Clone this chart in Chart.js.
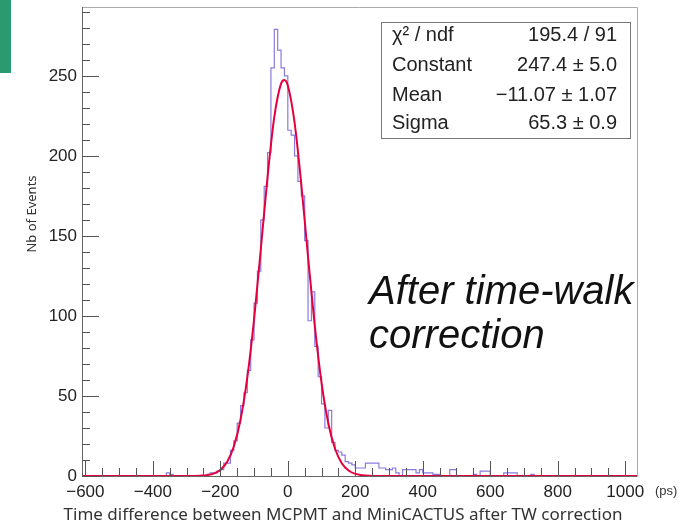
<!DOCTYPE html>
<html>
<head>
<meta charset="utf-8">
<script src="https://cdn.jsdelivr.net/npm/chart.js@4"></script>
<style>
  body { margin: 0; background: #fff; }
  #wrap { position: relative; width: 686px; height: 528px; }
  #tab { position: absolute; left: 0; top: 0; width: 11px; height: 73px; background: #2a9a70; }
</style>
</head>
<body>
<div id="wrap">
  <canvas id="canvas" width="686" height="528"></canvas>
  <div id="tab"></div>
</div>
<script>
// histogram, 10 ps bins starting at binStart
const binStart = -370;
const binWidth = 10;
const counts = [
  0, 2, 1, 0, 0, 0, 0, 0, 0, 0,
  0, 0, 0, 1, 2, 2, 3, 4, 8, 8,
  16, 22, 33, 44, 52, 66, 85, 108, 128, 160,
  181, 202, 255, 279, 266, 255, 250, 216, 213, 200,
  184, 175, 147, 97, 115, 81, 62, 45, 30, 41,
  21, 16, 15, 13, 9, 8, 7, 5, 5, 5,
  8, 8, 8, 8, 5, 5, 4, 4, 5, 2,
  0, 4, 4, 4, 4, 2, 4, 2, 2, 2,
  1, 1, 0, 0, 0, 4, 4, 0, 0, 0,
  0, 0, 1, 0, 3, 3, 3, 0, 0, 0,
  0, 2, 2, 2, 2, 0, 0, 0, 0, 1, 0
];

// red gaussian fit curve
const fitX = [-610, -300, -260, -240, -220, -200, -180, -160, -140, -120, -100, -80, -60, -40, -20, -10,
  0, 20, 40, 60, 80, 100, 120, 140, 160, 180, 200, 220, 260, 1035];
const fitY = [0, 0, 0.2, 0.5, 1.5, 3.8, 8.7, 18.4, 35.3, 61.6, 97.9, 141.8, 186.9, 224.3, 245.1, 247.4,
  243.9, 220.9, 182.2, 136.9, 93.6, 58.2, 33.0, 17.0, 8.0, 3.4, 1.3, 0.5, 0, 0];

const xTicks = [-600, -400, -200, 0, 200, 400, 600, 800, 1000];
const yTicks = [0, 50, 100, 150, 200, 250];
const xRange = [-610, 1035];
const yRange = [0, 293];

const statsNames = ['χ² / ndf', 'Constant', 'Mean', 'Sigma'];
const statsValues = ['195.4 / 91', '247.4 ± 5.0', '−11.07 ± 1.07', '65.3 ± 0.9'];

const xTitle = 'Time difference between MCPMT and MiniCACTUS after TW correction';
const yTitle = 'Nb of Events';
const xUnit = '(ps)';
const note = ['After time-walk', 'correction'];

const histPoints = [{ x: xRange[0], y: 0 }];
counts.forEach((c, i) => histPoints.push({ x: binStart + i * binWidth, y: c }));
histPoints.push({ x: binStart + counts.length * binWidth, y: 0 });
histPoints.push({ x: xRange[1], y: 0 });

const fitPoints = fitX.map((x, i) => ({ x: x, y: fitY[i] }));

const SANS = "'Liberation Sans', Arial, sans-serif";
const TITLE = "'Noto Sans', sans-serif";

const rootFrame = {
  id: 'rootFrame',
  afterDatasetsDraw(chart) {
    const { ctx, chartArea: ca, scales: { x, y } } = chart;
    ctx.save();
    // frame
    ctx.lineWidth = 1;
    ctx.strokeStyle = '#aaa';
    ctx.beginPath();
    ctx.moveTo(ca.left, ca.top + 0.5); ctx.lineTo(ca.right + 0.5, ca.top + 0.5);
    ctx.lineTo(ca.right + 0.5, ca.bottom);
    ctx.stroke();
    ctx.strokeStyle = '#666';
    ctx.beginPath();
    ctx.moveTo(ca.left + 0.5, ca.top); ctx.lineTo(ca.left + 0.5, ca.bottom + 0.5);
    ctx.lineTo(ca.right + 0.5, ca.bottom + 0.5);
    ctx.stroke();

    // ticks inside the frame
    ctx.strokeStyle = '#555';
    ctx.beginPath();
    for (let v = -600; v <= 1000; v += 50) {
      const px = Math.round(x.getPixelForValue(v)) + 0.5;
      const len = v % 200 === 0 ? 15 : 8;
      ctx.moveTo(px, ca.bottom); ctx.lineTo(px, ca.bottom - len);
    }
    for (let v = 0; v <= 290; v += 10) {
      const py = Math.round(y.getPixelForValue(v)) + 0.5;
      const len = v % 50 === 0 ? 17 : 8;
      ctx.moveTo(ca.left, py); ctx.lineTo(ca.left + len, py);
    }
    ctx.stroke();

    // stats box
    const bx = ca.right - 256, by = ca.top + 15, bw = 249, bh = 116;
    ctx.fillStyle = '#fff';
    ctx.fillRect(bx, by, bw, bh);
    ctx.strokeStyle = '#777';
    ctx.strokeRect(bx + 0.5, by + 0.5, bw, bh);
    ctx.fillStyle = '#222';
    ctx.font = '20px ' + SANS;
    ctx.textBaseline = 'middle';
    const rowY = [13, 43, 73, 101];
    statsNames.forEach((n, i) => {
      ctx.textAlign = 'left';
      ctx.fillText(n, bx + 11, by + rowY[i]);
      ctx.textAlign = 'right';
      ctx.fillText(statsValues[i], bx + bw - 13, by + rowY[i]);
    });

    // annotation
    ctx.fillStyle = '#111';
    ctx.font = 'italic 40px ' + SANS;
    ctx.textAlign = 'left';
    ctx.fillText(note[0], 369, 293);
    ctx.fillText(note[1], 369, 337);

    // unit and axis titles
    ctx.fillStyle = '#333';
    ctx.font = '13px ' + SANS;
    ctx.fillText(xUnit, 655, 491);
    ctx.font = '17px ' + TITLE;
    ctx.textAlign = 'center';
    ctx.fillText(xTitle, 343, 515);
    ctx.translate(32, 214);
    ctx.rotate(-Math.PI / 2);
    ctx.font = '13px ' + TITLE;
    ctx.fillText(yTitle, 0, 0);
    ctx.restore();
  }
};

new Chart(document.getElementById('canvas'), {
  type: 'line',
  data: {
    datasets: [
      {
        label: 'fit',
        data: fitPoints,
        borderColor: '#e3003c',
        borderWidth: 2,
        pointRadius: 0,
        fill: false,
        cubicInterpolationMode: 'monotone',
        order: 0
      },
      {
        label: 'hist',
        data: histPoints,
        borderColor: 'rgba(115,100,215,0.85)',
        borderWidth: 1.2,
        pointRadius: 0,
        fill: false,
        stepped: true,
        order: 1
      }
    ]
  },
  options: {
    responsive: false,
    animation: false,
    layout: { padding: { top: 7, right: 49, left: 0, bottom: 0 } },
    plugins: { legend: { display: false }, tooltip: { enabled: false } },
    scales: {
      x: {
        type: 'linear',
        min: xRange[0],
        max: xRange[1],
        grid: { display: false, drawTicks: false },
        border: { display: false },
        afterBuildTicks: ax => { ax.ticks = xTicks.map(v => ({ value: v })); },
        afterFit: ax => { ax.height = 52; ax.paddingLeft = 0; ax.paddingRight = 0; },
        ticks: {
          font: { family: SANS, size: 17 },
          color: '#222',
          padding: 6,
          maxRotation: 0,
          autoSkip: false,
          callback: v => String(v).replace('-', '−')
        }
      },
      y: {
        min: yRange[0],
        max: yRange[1],
        grid: { display: false, drawTicks: false },
        border: { display: false },
        afterBuildTicks: ax => { ax.ticks = yTicks.map(v => ({ value: v })); },
        afterFit: ax => { ax.width = 82; ax.paddingTop = 0; ax.paddingBottom = 0; },
        ticks: {
          font: { family: SANS, size: 17 },
          color: '#222',
          padding: 5,
          autoSkip: false
        }
      }
    }
  },
  plugins: [rootFrame]
});
</script>
</body>
</html>
